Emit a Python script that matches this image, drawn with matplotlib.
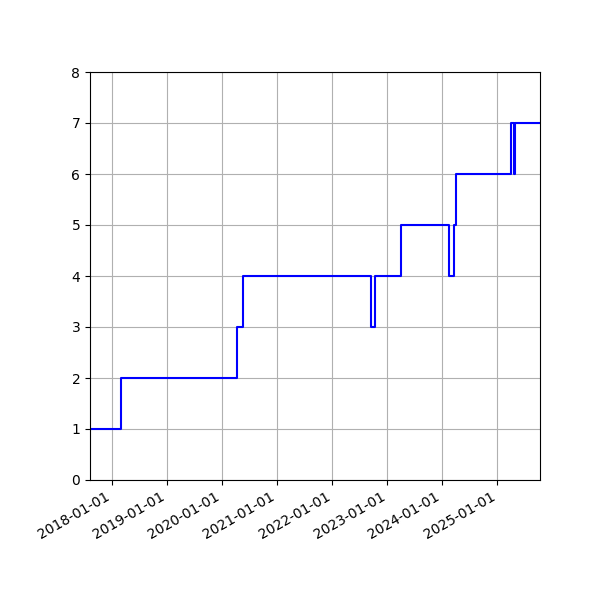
import numpy as np
import pandas as pd
import matplotlib
matplotlib.use("Agg")
from matplotlib import pyplot as plt
import matplotlib.dates as mdates

# step data
dates = ["2017-08-06", "2018-03-01", "2020-04-08", "2020-05-18",
         "2022-09-13", "2022-10-12", "2023-03-30", "2024-02-17",
         "2024-03-19", "2024-04-03", "2025-04-01", "2025-04-20",
         "2025-04-30", "2025-10-11"]
values = [1, 2, 3, 4, 3, 4, 5, 4, 5, 6, 7, 6, 7, 7]

dates = pd.to_datetime(dates)

fig, ax = plt.subplots(figsize=(6, 6), dpi=100)
ax.plot(dates, values, color='blue', drawstyle='steps-post')
ax.set_xlim(dates[0], dates[-1])
ax.set_ylim(0, 8)
ax.xaxis.set_major_locator(mdates.YearLocator())
ax.xaxis.set_major_formatter(mdates.DateFormatter('%Y-%m-%d'))
ax.grid()
fig.autofmt_xdate()
plt.subplots_adjust(left=0.15, right=0.9, bottom=0.2, top=0.88)

plt.savefig("out.png")
